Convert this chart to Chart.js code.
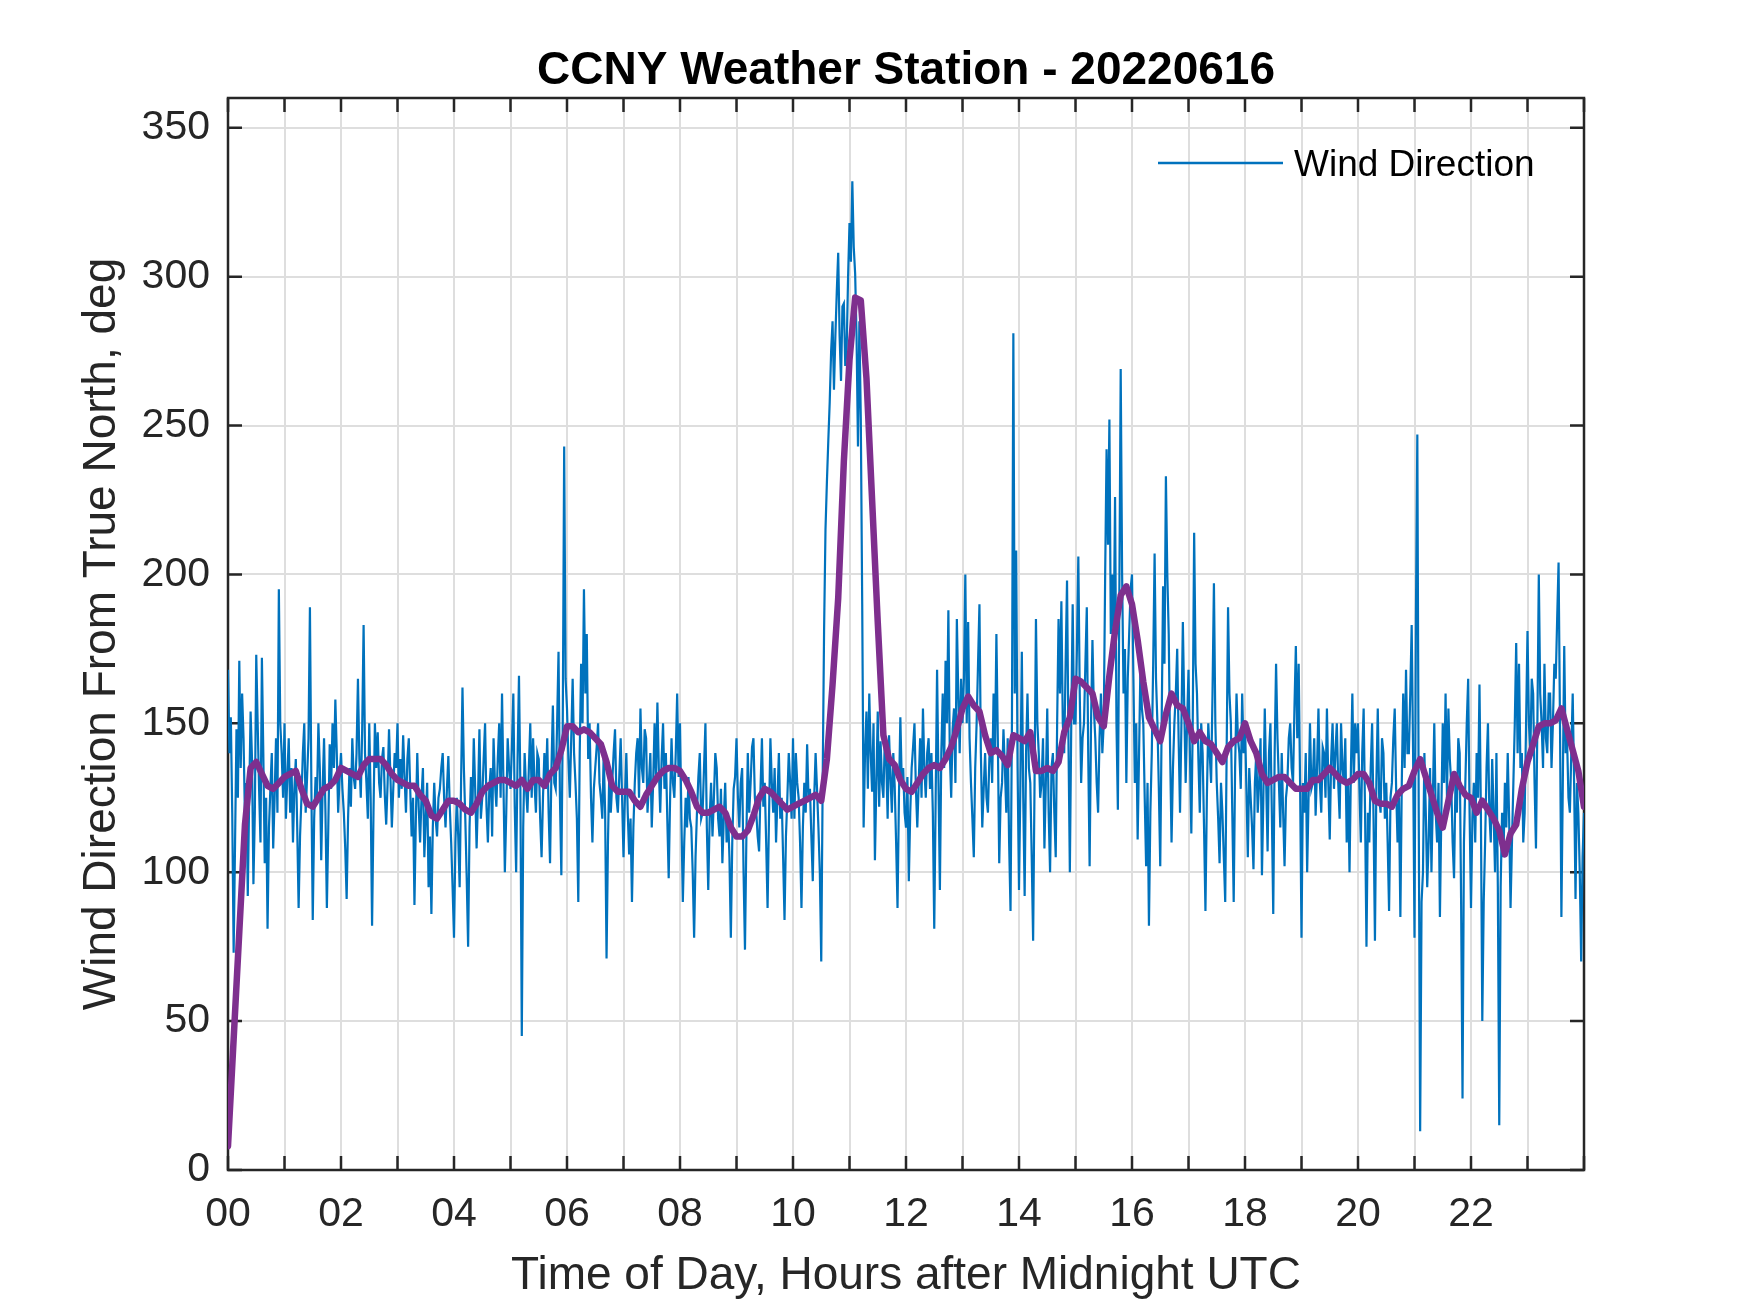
<!DOCTYPE html>
<html>
<head>
<meta charset="utf-8">
<title>CCNY Weather Station - 20220616</title>
<script src="https://cdn.jsdelivr.net/npm/chart.js@4.4.1/dist/chart.umd.min.js"></script>
<style>
    html, body { margin: 0; padding: 0; background: #ffffff; }
    canvas { display: block; }
</style>
</head>
<body>
<canvas id="wind-chart" width="1750" height="1313"></canvas>
<script>
// Wind direction (deg from true north), one reading every 1.5 minutes.
const raw_step_hours = 1.5 / 60;
const wind_direction = [
    // 00
    168, 140, 152, 120, 73, 110, 148, 125, 171, 135, 160, 145, 118, 130, 92, 125, 154, 138, 96, 120,
    173, 150, 128, 110, 172, 140, 103, 125, 81, 115, 128, 140, 108, 125, 145, 120, 195, 150, 140, 125,
    // 01
    150, 118, 132, 145, 120, 135, 110, 128, 138, 115, 88, 112, 125, 140, 150, 120, 132, 145, 189, 130,
    84, 118, 132, 125, 150, 135, 104, 128, 145, 120, 88, 115, 143, 128, 150, 135, 158, 140, 120, 132,
    // 02
    140, 128, 120, 108, 91, 118, 135, 122, 145, 132, 128, 140, 165, 138, 125, 148, 183, 140, 130, 118,
    150, 125, 82, 120, 150, 135, 147, 130, 125, 138, 142, 126, 116, 130, 148, 132, 115, 128, 140, 135,
    // 03
    150, 125, 138, 128, 146, 132, 120, 138, 145, 128, 112, 125, 89, 118, 140, 122, 110, 125, 135, 105,
    118, 130, 95, 112, 86, 115, 130, 118, 112, 125, 128, 135, 140, 125, 115, 128, 139, 122, 110, 95,
    // 04
    78, 110, 125, 112, 95, 130, 162, 135, 118, 98, 75, 115, 132, 120, 145, 128, 108, 125, 148, 118,
    125, 138, 150, 122, 110, 128, 135, 112, 145, 130, 122, 138, 150, 125, 160, 130, 100, 120, 145, 135,
    // 05
    128, 142, 160, 122, 100, 138, 166, 128, 45, 115, 140, 128, 120, 135, 150, 125, 145, 130, 120, 140,
    138, 118, 105, 125, 140, 128, 145, 120, 103, 135, 156, 130, 128, 150, 174, 125, 99, 150, 243, 165,
    // 06
    155, 138, 125, 145, 165, 140, 130, 118, 90, 140, 170, 150, 195, 160, 180, 138, 150, 125, 110, 128,
    135, 142, 150, 130, 125, 118, 140, 120, 71, 110, 135, 120, 130, 140, 148, 125, 120, 132, 145, 125,
    // 07
    105, 125, 140, 120, 106, 118, 90, 115, 130, 140, 145, 125, 155, 135, 130, 148, 145, 120, 130, 140,
    115, 130, 150, 132, 157, 135, 120, 138, 150, 128, 140, 118, 98, 125, 145, 130, 125, 140, 160, 132,
    // 08
    150, 118, 90, 110, 125, 115, 132, 118, 115, 100, 78, 105, 120, 132, 140, 118, 120, 135, 150, 115,
    94, 118, 130, 112, 125, 140, 135, 118, 112, 128, 103, 118, 130, 110, 120, 105, 78, 110, 128, 132,
    // 09
    145, 125, 115, 130, 135, 100, 74, 112, 140, 120, 130, 142, 145, 125, 120, 112, 107, 128, 145, 122,
    130, 110, 88, 118, 145, 130, 120, 135, 110, 125, 140, 118, 125, 105, 84, 112, 125, 140, 130, 118,
    // 10
    145, 118, 140, 130, 125, 110, 88, 115, 130, 120, 143, 125, 128, 112, 97, 125, 140, 128, 115, 100,
    70, 130, 181, 215, 231, 245, 258, 275, 285, 262, 280, 295, 308, 280, 265, 290, 291, 270, 276, 300,
    // 11
    318, 305, 332, 310, 301, 280, 243, 285, 252, 190, 115, 140, 154, 128, 160, 140, 127, 150, 104, 130,
    154, 122, 144, 130, 125, 145, 138, 118, 146, 132, 120, 140, 129, 110, 88, 125, 152, 130, 135, 120,
    // 12
    115, 132, 97, 120, 135, 142, 150, 128, 115, 130, 145, 125, 155, 135, 125, 140, 145, 128, 140, 120,
    81, 125, 168, 130, 94, 140, 160, 135, 171, 150, 188, 140, 125, 148, 155, 130, 185, 160, 140, 165,
    // 13
    150, 165, 200, 150, 184, 145, 130, 118, 105, 135, 150, 170, 190, 140, 115, 128, 140, 125, 120, 138,
    145, 130, 160, 140, 180, 145, 103, 125, 130, 148, 135, 120, 145, 110, 87, 150, 281, 160, 208, 135,
    // 14
    94, 130, 174, 125, 92, 140, 160, 135, 130, 105, 77, 130, 185, 150, 140, 125, 130, 145, 108, 130,
    155, 120, 100, 135, 140, 120, 105, 150, 185, 160, 191, 150, 140, 170, 198, 145, 100, 150, 190, 150,
    // 15
    150, 175, 206, 160, 130, 145, 150, 170, 189, 140, 102, 150, 178, 155, 145, 130, 120, 145, 160, 140,
    150, 200, 242, 210, 252, 180, 200, 175, 226, 150, 121, 190, 269, 200, 160, 175, 130, 165, 180, 195,
    // 16
    200, 165, 130, 150, 111, 140, 170, 155, 150, 125, 102, 130, 82, 120, 140, 170, 207, 165, 150, 128,
    102, 150, 196, 170, 233, 200, 180, 140, 110, 135, 150, 160, 175, 145, 120, 150, 184, 155, 130, 150,
    // 17
    168, 140, 113, 150, 214, 170, 160, 138, 120, 150, 140, 115, 87, 125, 150, 140, 130, 160, 197, 150,
    130, 118, 103, 130, 120, 105, 90, 140, 189, 160, 150, 120, 90, 135, 160, 145, 140, 128, 160, 140,
    // 18
    150, 128, 105, 135, 125, 115, 101, 130, 140, 120, 130, 145, 99, 125, 155, 130, 107, 140, 150, 120,
    86, 140, 170, 145, 130, 115, 140, 120, 102, 125, 130, 145, 150, 135, 130, 155, 176, 145, 170, 130,
    // 19
    78, 130, 120, 140, 100, 125, 150, 128, 130, 145, 119, 135, 155, 130, 120, 142, 140, 125, 155, 130,
    111, 138, 150, 128, 140, 150, 130, 118, 150, 135, 130, 145, 110, 130, 100, 135, 160, 130, 150, 140,
    // 20
    150, 128, 110, 140, 155, 120, 75, 120, 110, 135, 150, 118, 77, 130, 155, 125, 120, 145, 140, 118,
    130, 110, 87, 125, 130, 145, 155, 128, 110, 125, 85, 130, 160, 135, 168, 140, 140, 160, 183, 140,
    // 21
    78, 185, 247, 120, 13, 90, 100, 140, 120, 95, 110, 135, 100, 125, 150, 120, 110, 130, 85, 120,
    150, 130, 160, 125, 155, 138, 130, 110, 98, 130, 120, 145, 140, 90, 24, 110, 130, 150, 165, 120,
    // 22
    88, 118, 130, 110, 140, 125, 163, 120, 50, 90, 110, 135, 150, 120, 110, 138, 120, 100, 140, 95,
    15, 95, 120, 105, 130, 115, 140, 118, 88, 110, 130, 150, 177, 140, 170, 135, 140, 110, 120, 150,
    // 23
    181, 150, 140, 165, 160, 130, 108, 150, 200, 160, 150, 135, 170, 145, 140, 160, 160, 135, 150, 170,
    165, 185, 204, 150, 85, 130, 176, 140, 145, 125, 120, 140, 160, 130, 91, 130, 120, 100, 70, 105,
    120
];

// Running mean of the wind direction, one value every 6 minutes.
const mean_step_hours = 0.1;
const wind_direction_mean = [
    8, 44, 80, 116, 135, 137, 133, 129, 128, 130,       // 00
    132, 133, 134, 128, 123, 122, 125, 128, 129, 131,   // 01
    135, 134, 133, 132, 136, 138, 138, 138, 136, 133,   // 02
    131, 130, 129, 129, 126, 124, 119, 118, 121, 124,   // 03
    124, 123, 121, 120, 123, 127, 129, 130, 131, 131,   // 04
    130, 129, 131, 128, 131, 131, 129, 133, 135, 141,   // 05
    149, 149, 147, 148, 147, 145, 143, 137, 129, 127,   // 06
    127, 127, 124, 122, 126, 129, 132, 134, 135, 135,   // 07
    134, 131, 127, 122, 120, 120, 121, 122, 120, 115,   // 08
    112, 112, 114, 119, 125, 128, 127, 125, 123, 121,   // 09
    122, 123, 124, 125, 126, 124, 138, 163, 192, 238,   // 10
    272, 293, 292, 266, 225, 184, 146, 138, 136, 131,   // 11
    128, 127, 130, 133, 135, 136, 135, 138, 142, 148,   // 12
    155, 159, 156, 154, 146, 140, 141, 139, 136, 146,   // 13
    145, 144, 147, 134, 134, 135, 134, 137, 147, 152,   // 14
    165, 164, 162, 160, 152, 149, 166, 181, 193, 196,   // 15
    190, 178, 164, 152, 148, 144, 153, 160, 156, 155,   // 16
    150, 144, 147, 144, 143, 140, 137, 142, 144, 145,   // 17
    150, 144, 140, 133, 130, 131, 132, 132, 130, 128,   // 18
    128, 128, 131, 131, 133, 135, 133, 131, 130, 131,   // 19
    133, 133, 130, 124, 123, 123, 122, 126, 128, 129,   // 20
    134, 138, 132, 126, 120, 115, 124, 133, 129, 126,   // 21
    125, 120, 124, 121, 118, 114, 106, 113, 116, 128,   // 22
    137, 143, 149, 150, 150, 151, 155, 148, 141, 134,   // 23
    122
];

const hour_labels = ["00", "02", "04", "06", "08", "10", "12", "14", "16", "18", "20", "22"];

const font_family = '"Liberation Sans", Arial, Helvetica, sans-serif';
const axis_color = "#262626";
const grid_color = "#dedede";
const tick_len = 14;

/**
 * Turn a list of evenly spaced readings into {x, y} points.
 * @param {Array<Number>} values - readings.
 * @param {Number} step - hours between two readings.
 * @returns {Array<Object>} points.
 */
function to_points(values, step) {
    return values.map((v, i) => ({ x: i * step, y: v }));
}

// MATLAB style box with inward ticks on every side, plus the legend.
const axes_frame = {
    id: "axes_frame",
    beforeDatasetsDraw(chart) {
        let { ctx, chartArea: a, scales: { x, y } } = chart;
        ctx.save();
        ctx.strokeStyle = axis_color;
        ctx.lineWidth = 2.5;
        ctx.beginPath();
        x.ticks.forEach((t) => {
            let px = x.getPixelForValue(t.value);
            ctx.moveTo(px, a.bottom);
            ctx.lineTo(px, a.bottom - tick_len);
            ctx.moveTo(px, a.top);
            ctx.lineTo(px, a.top + tick_len);
        });
        y.ticks.forEach((t) => {
            let py = y.getPixelForValue(t.value);
            ctx.moveTo(a.left, py);
            ctx.lineTo(a.left + tick_len, py);
            ctx.moveTo(a.right, py);
            ctx.lineTo(a.right - tick_len, py);
        });
        ctx.stroke();
        ctx.strokeRect(a.left, a.top, a.right - a.left, a.bottom - a.top);
        ctx.restore();
    },
    afterDraw(chart) {
        let { ctx, chartArea: a } = chart;
        let x0 = a.right - 426;
        let ly = a.top + 65;
        ctx.save();
        ctx.strokeStyle = "#0072BD";
        ctx.lineWidth = 2.5;
        ctx.beginPath();
        ctx.moveTo(x0, ly);
        ctx.lineTo(x0 + 125, ly);
        ctx.stroke();
        ctx.fillStyle = "#000000";
        ctx.font = `37px ${font_family}`;
        ctx.textBaseline = "middle";
        ctx.textAlign = "left";
        ctx.fillText(chart.data.datasets[0].label, x0 + 136, ly + 3);
        ctx.restore();
    }
};

new Chart(document.querySelector("#wind-chart"), {
    type: "line",
    data: {
        datasets: [{
            label: "Wind Direction",
            data: to_points(wind_direction, raw_step_hours),
            borderColor: "#0072BD",
            borderWidth: 2.2,
            pointRadius: 0,
            tension: 0,
            order: 2
        }, {
            label: "Running mean",
            data: to_points(wind_direction_mean, mean_step_hours),
            borderColor: "#7E2F8E",
            borderWidth: 6.5,
            borderJoinStyle: "round",
            borderCapStyle: "round",
            pointRadius: 0,
            tension: 0,
            order: 1
        }]
    },
    options: {
        responsive: false,
        animation: false,
        devicePixelRatio: 1,
        layout: { padding: { left: 0, right: 166, top: 0, bottom: 0 } },
        scales: {
            x: {
                type: "linear",
                min: 0,
                max: 24,
                afterFit: (s) => { s.height = 143; },
                border: { display: false },
                grid: { color: grid_color, lineWidth: 2, drawTicks: false },
                ticks: {
                    stepSize: 1,
                    autoSkip: false,
                    maxRotation: 0,
                    padding: 20,
                    color: axis_color,
                    font: { family: font_family, size: 41 },
                    callback: (v) => (v % 2 === 0 && v < 24) ? hour_labels[v / 2] : ""
                },
                title: {
                    display: true,
                    text: "Time of Day, Hours after Midnight UTC",
                    color: axis_color,
                    font: { family: font_family, size: 46 },
                    padding: { top: 0, bottom: 9 }
                }
            },
            y: {
                min: 0,
                max: 360,
                afterFit: (s) => { s.width = 228; },
                border: { display: false },
                grid: { color: grid_color, lineWidth: 2, drawTicks: false },
                ticks: {
                    stepSize: 50,
                    includeBounds: false,
                    padding: 18,
                    color: axis_color,
                    font: { family: font_family, size: 41 }
                },
                title: {
                    display: true,
                    text: "Wind Direction From True North, deg",
                    color: axis_color,
                    font: { family: font_family, size: 46 },
                    padding: { top: 75, bottom: 0 }
                }
            }
        },
        plugins: {
            legend: { display: false },
            tooltip: { enabled: false },
            title: {
                display: true,
                fullSize: false,
                text: "CCNY Weather Station - 20220616",
                color: "#000000",
                font: { family: font_family, size: 46, weight: "bold", lineHeight: 1 },
                padding: { top: 48, bottom: 4 }
            }
        }
    },
    plugins: [axes_frame]
});
</script>
</body>
</html>
